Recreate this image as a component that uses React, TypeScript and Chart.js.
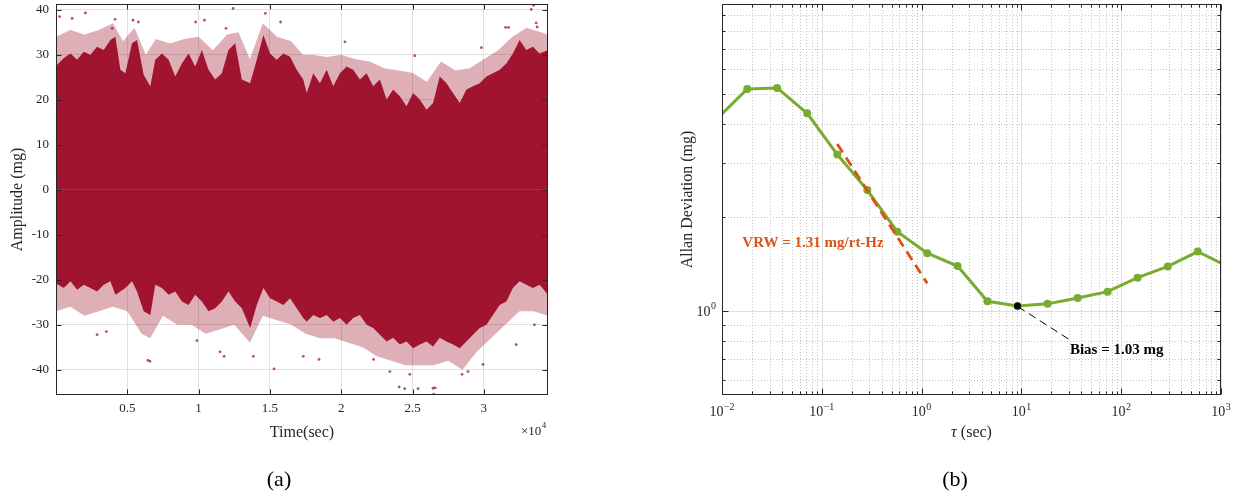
import React, { useEffect, useRef } from 'react';
import { Chart, registerables } from 'chart.js';
Chart.register(...registerables);

const SERIF = '"Liberation Serif", "DejaVu Serif", "Times New Roman", serif';
const INK = '#262626';
const WINE = 'rgb(160,20,48)';
const WINE_FRINGE = 'rgba(160,20,48,0.34)';
const WINE_DOT = 'rgba(160,20,48,0.75)';
const GREEN = '#77AC30';
const ORANGE = '#D95319';

// ---------------- Panel (a): raw accelerometer amplitude (envelope of the dense point cloud) ----------------
const coreTopTime = [0, 546, 1015, 1482, 1948, 2414, 2880, 3347, 3814, 4164, 4514, 4864, 5330, 5680, 6147, 6613, 6963, 7430, 7896, 8362, 8829, 9296, 9762, 10229, 10696, 11162, 11629, 12096, 12561, 13029, 13611, 14079, 14545, 15010, 15480, 15941, 16410, 16879, 17340, 17580, 18040, 18510, 18980, 19440, 19910, 20380, 20840, 21310, 21780, 22240, 22710, 23180, 23640, 24110, 24580, 25040, 25510, 25980, 26440, 26910, 27380, 27840, 28310, 28780, 29240, 29710, 30180, 30640, 31110, 31580, 32040, 32510, 32980, 33440, 33910, 34500];
const coreTopAmp = [27.5, 29.3, 30.3, 28.9, 30.7, 30.0, 31.8, 31.1, 33.3, 34.0, 26.7, 25.9, 32.6, 33.3, 25.6, 23.0, 28.9, 30.3, 28.9, 25.2, 28.1, 30.3, 27.4, 31.1, 26.7, 24.5, 25.9, 31.1, 32.6, 24.5, 23.7, 28.9, 34.4, 30.3, 28.9, 30.3, 29.6, 26.7, 24.5, 21.5, 25.9, 23.7, 26.7, 23.0, 25.9, 27.4, 26.7, 24.5, 25.9, 23.0, 24.5, 20.1, 22.3, 20.8, 18.6, 21.5, 20.1, 17.8, 19.3, 25.2, 23.7, 21.5, 19.3, 22.3, 23.0, 23.7, 25.2, 25.9, 26.7, 28.1, 30.3, 33.3, 31.1, 31.8, 30.3, 31.1];

const coreBottomTime = coreTopTime;
const coreBottomAmp = [-20.8, -21.8, -20.3, -22.2, -21.1, -21.8, -22.6, -21.1, -20.3, -23.3, -22.6, -21.8, -20.3, -22.6, -27.0, -27.8, -21.1, -21.8, -23.3, -22.6, -24.8, -25.6, -23.3, -24.8, -27.0, -26.3, -24.8, -22.6, -24.8, -26.3, -30.7, -25.6, -21.8, -24.1, -24.8, -25.6, -24.1, -26.3, -28.5, -29.3, -27.8, -28.5, -27.8, -29.3, -28.5, -30.0, -28.5, -27.8, -30.0, -30.7, -32.2, -33.7, -32.9, -34.4, -33.7, -35.2, -34.4, -33.7, -34.8, -32.9, -33.7, -34.4, -35.2, -33.7, -32.2, -30.7, -30.0, -27.8, -25.6, -24.8, -21.8, -20.3, -21.1, -21.8, -21.1, -23.3];

const fringeTopTime = [0, 1000, 2000, 3000, 4000, 4700, 5500, 6300, 7000, 8000, 9000, 10000, 11000, 12000, 12800, 13600, 14500, 15500, 16500, 17300, 18000, 19000, 20000, 21000, 22000, 23000, 24000, 25000, 26000, 27000, 28000, 29000, 30000, 31000, 32000, 33000, 34000, 34500];
const fringeTopAmp = [34.0, 35.5, 34.5, 35.5, 37.0, 33.0, 36.0, 30.0, 33.5, 32.5, 33.5, 34.0, 31.0, 34.5, 35.0, 29.0, 37.0, 34.0, 33.0, 30.0, 30.0, 29.5, 30.0, 29.0, 28.5, 27.0, 26.5, 26.0, 24.0, 28.5, 26.5, 27.0, 29.0, 31.0, 34.0, 36.0, 35.0, 34.5];

const fringeBottomTime = [0, 1000, 2000, 3000, 4000, 5000, 6000, 6600, 7500, 8500, 9500, 10500, 11500, 12500, 13600, 14500, 15500, 16500, 17500, 18500, 19500, 20500, 21500, 22500, 23500, 24500, 25500, 26500, 27500, 28500, 29500, 30500, 31500, 32500, 33500, 34500];
const fringeBottomAmp = [-27, -26, -28, -27, -26, -27, -32, -33, -28, -30, -30, -32, -31, -30, -34, -28, -29, -30, -32, -33, -33, -34, -35, -37, -38, -39, -39, -39, -38, -40, -36, -33, -30, -27, -27, -28];

const strayTime = [250, 1130, 2060, 3940, 4140, 5400, 5770, 9790, 10410, 11920, 12420, 14680, 15750, 20260, 25160, 29830, 31530, 31740, 33320, 33490, 33670, 33740,
  2880, 3530, 6450, 6580, 9880, 11500, 11790, 13840, 15290, 17340, 18440, 22270, 23410, 24060, 24450, 24810, 25390, 26440, 26490, 26590, 28470, 28890, 29940, 32270, 33550];
const strayAmp = [38.5, 38.1, 39.3, 35.9, 37.9, 37.7, 37.3, 37.3, 37.7, 35.9, 40.3, 39.2, 37.3, 32.9, 29.8, 31.6, 36.1, 36.1, 40.1, 41.0, 37.1, 36.2,
  -32.2, -31.5, -37.9, -38.1, -33.5, -36.0, -37.0, -37.0, -39.8, -37.0, -37.7, -37.7, -40.4, -43.8, -44.2, -41.0, -44.2, -44.1, -45.4, -44.0, -41.0, -40.4, -38.8, -34.4, -30.0];

const timeTicks = [5000, 10000, 15000, 20000, 25000, 30000];
const timeTickLabels = ['0.5', '1', '1.5', '2', '2.5', '3'];
const ampTicks = [-40, -30, -20, -10, 0, 10, 20, 30, 40];

// ---------------- Panel (b): Allan deviation ----------------
const allanTau = [0.00893, 0.0179, 0.0357, 0.0714, 0.143, 0.286, 0.571, 1.14, 2.29, 4.57, 9.14, 18.3, 36.6, 73.1, 146, 293, 585, 1170];
const allanDev = [4.16, 5.19, 5.23, 4.33, 3.19, 2.45, 1.80, 1.534, 1.394, 1.073, 1.037, 1.053, 1.10, 1.153, 1.279, 1.39, 1.552, 1.39];
const vrwTau = [0.1429, 1.14];
const vrwDev = [3.45, 1.226];
const biasTau = [9.14];
const biasDev = [1.037];
const biasLeaderTau = [9.22, 30.4];
const biasLeaderDev = [1.032, 0.807];
const vrwLabel = { tau: 0.016, dev: 1.65, text: 'VRW = 1.31 mg/rt-Hz' };
const biasLabel = { tau: 30.6, dev: 0.746, text: 'Bias = 1.03 mg' };
const tauTicks = [0.01, 0.1, 1, 10, 100, 1000];
const tauTickExp = ['\u22122', '\u22121', '0', '1', '2', '3'];
const devMajorTicks = [1];
const devMajorExp = ['0'];

const pts = (xs: number[], ys: number[]) => xs.map((x, i) => ({ x, y: ys[i] }));

function seg(ctx: CanvasRenderingContext2D, x1: number, y1: number, x2: number, y2: number) {
  ctx.beginPath();
  ctx.moveTo(x1, y1);
  ctx.lineTo(x2, y2);
  ctx.stroke();
}

function drawPow(ctx: CanvasRenderingContext2D, base: string, exp: string, x: number, cy: number, align: 'center' | 'right') {
  ctx.font = `14px ${SERIF}`;
  const wb = ctx.measureText(base).width;
  ctx.font = `10px ${SERIF}`;
  const we = ctx.measureText(exp).width;
  const total = wb + we + 0.5;
  const x0 = align === 'center' ? x - total / 2 : x - total;
  ctx.textAlign = 'left';
  ctx.textBaseline = 'alphabetic';
  ctx.font = `14px ${SERIF}`;
  ctx.fillText(base, x0, cy + 5);
  ctx.font = `10px ${SERIF}`;
  ctx.fillText(exp, x0 + wb + 0.5, cy - 1.5);
}

const noPad = (s: any) => {
  s.paddingTop = 0;
  s.paddingBottom = 0;
  s.paddingLeft = 0;
  s.paddingRight = 0;
};

const panelAPlugin = {
  id: 'panelA',
  afterDatasetsDraw(chart: any) {
    const { ctx, chartArea: a } = chart;
    const xs = chart.scales.x;
    const ys = chart.scales.y;
    ctx.save();
    ctx.strokeStyle = INK;
    ctx.lineWidth = 1;
    const L = Math.round(a.left) + 0.5, R = Math.round(a.right) - 0.5, T = Math.round(a.top) + 0.5, B = Math.round(a.bottom) - 0.5;
    ctx.strokeRect(L, T, R - L, B - T);
    timeTicks.forEach((v) => {
      const p = Math.round(xs.getPixelForValue(v)) + 0.5;
      seg(ctx, p, B, p, B - 5);
      seg(ctx, p, T, p, T + 5);
    });
    ampTicks.forEach((v) => {
      const p = Math.round(ys.getPixelForValue(v)) + 0.5;
      seg(ctx, L, p, L + 5, p);
      seg(ctx, R, p, R - 5, p);
    });
    ctx.fillStyle = INK;
    ctx.font = `13px ${SERIF}`;
    ctx.textAlign = 'left';
    ctx.textBaseline = 'alphabetic';
    const w = ctx.measureText('\u00d710').width;
    const x0 = a.right - 27;
    ctx.fillText('\u00d710', x0, 435);
    ctx.font = `9px ${SERIF}`;
    ctx.fillText('4', x0 + w + 0.5, 428);
    ctx.restore();
  },
};

const panelBPlugin = {
  id: 'panelB',
  beforeDatasetsDraw(chart: any) {
    const { ctx, chartArea: a } = chart;
    const xs = chart.scales.x;
    const ys = chart.scales.y;
    ctx.save();
    ctx.lineWidth = 1;
    ctx.strokeStyle = '#c4c4c4';
    ctx.setLineDash([1, 2]);
    for (let k = -2; k <= 2; k++) {
      for (let m = 2; m <= 9; m++) {
        const p = Math.round(xs.getPixelForValue(m * Math.pow(10, k))) + 0.5;
        seg(ctx, p, a.top, p, a.bottom);
      }
    }
    [0.6, 0.7, 0.8, 0.9, 2, 3, 4, 5, 6, 7, 8, 9].forEach((v) => {
      const p = Math.round(ys.getPixelForValue(v)) + 0.5;
      seg(ctx, a.left, p, a.right, p);
    });
    ctx.setLineDash([]);
    ctx.strokeStyle = '#dedede';
    tauTicks.forEach((v) => {
      const p = Math.round(xs.getPixelForValue(v)) + 0.5;
      seg(ctx, p, a.top, p, a.bottom);
    });
    devMajorTicks.forEach((v) => {
      const p = Math.round(ys.getPixelForValue(v)) + 0.5;
      seg(ctx, a.left, p, a.right, p);
    });
    ctx.restore();
  },
  afterDatasetsDraw(chart: any) {
    const { ctx, chartArea: a } = chart;
    const xs = chart.scales.x;
    const ys = chart.scales.y;
    ctx.save();
    ctx.strokeStyle = INK;
    ctx.lineWidth = 1;
    const L = Math.round(a.left) + 0.5, R = Math.round(a.right) - 0.5, T = Math.round(a.top) + 0.5, B = Math.round(a.bottom) - 0.5;
    ctx.strokeRect(L, T, R - L, B - T);
    for (let k = -2; k <= 3; k++) {
      for (let m = 1; m <= 9; m++) {
        const v = m * Math.pow(10, k);
        if (v > 1000.001) break;
        const p = Math.round(xs.getPixelForValue(v)) + 0.5;
        const len = m === 1 ? 6 : 3;
        seg(ctx, p, B, p, B - len);
        seg(ctx, p, T, p, T + len);
      }
    }
    [0.6, 0.7, 0.8, 0.9, 1, 2, 3, 4, 5, 6, 7, 8, 9].forEach((v) => {
      const p = Math.round(ys.getPixelForValue(v)) + 0.5;
      const len = v === 1 ? 6 : 3;
      seg(ctx, L, p, L + len, p);
      seg(ctx, R, p, R - len, p);
    });
    ctx.fillStyle = INK;
    tauTicks.forEach((v, i) => {
      drawPow(ctx, '10', tauTickExp[i], xs.getPixelForValue(v), 411, 'center');
    });
    devMajorTicks.forEach((v, i) => {
      drawPow(ctx, '10', devMajorExp[i], a.left - 6, ys.getPixelForValue(v), 'right');
    });
    ctx.textBaseline = 'middle';
    ctx.textAlign = 'left';
    ctx.font = `italic 16px ${SERIF}`;
    const wt = ctx.measureText('\u03c4').width;
    ctx.font = `16px ${SERIF}`;
    const ws = ctx.measureText(' (sec)').width;
    const cx = (a.left + a.right) / 2;
    const tx = cx - (wt + ws) / 2;
    ctx.font = `italic 16px ${SERIF}`;
    ctx.fillText('\u03c4', tx, 433);
    ctx.font = `16px ${SERIF}`;
    ctx.fillText(' (sec)', tx + wt, 433);
    ctx.font = `bold 15px ${SERIF}`;
    ctx.fillStyle = ORANGE;
    ctx.fillText(vrwLabel.text, xs.getPixelForValue(vrwLabel.tau), ys.getPixelForValue(vrwLabel.dev));
    ctx.fillStyle = '#000';
    ctx.fillText(biasLabel.text, xs.getPixelForValue(biasLabel.tau), ys.getPixelForValue(biasLabel.dev));
    ctx.restore();
  },
};

function PanelA() {
  const ref = useRef<HTMLCanvasElement>(null);
  useEffect(() => {
    const envelope = (data: any[], color: string) => ({
      data,
      borderColor: 'rgba(0,0,0,0)',
      borderWidth: 0,
      backgroundColor: color,
      pointRadius: 0,
      fill: { value: 0 },
      tension: 0,
      clip: 0,
    });
    const chart = new Chart(ref.current as HTMLCanvasElement, {
      type: 'line',
      data: {
        datasets: [
          {
            data: pts(strayTime, strayAmp),
            showLine: false,
            pointRadius: 1.4,
            pointBorderWidth: 0,
            pointBackgroundColor: WINE_DOT,
            borderColor: WINE_DOT,
            clip: 0,
          } as any,
          envelope(pts(coreTopTime, coreTopAmp), WINE),
          envelope(pts(coreBottomTime, coreBottomAmp), WINE),
          envelope(pts(fringeTopTime, fringeTopAmp), WINE_FRINGE),
          envelope(pts(fringeBottomTime, fringeBottomAmp), WINE_FRINGE),
        ],
      },
      options: {
        responsive: false,
        animation: false,
        events: [],
        layout: { padding: { left: 0, right: 22, top: 2, bottom: 39 } },
        plugins: { legend: { display: false }, tooltip: { enabled: false } },
        scales: {
          x: {
            type: 'linear',
            min: 0,
            max: 34500,
            afterBuildTicks: (s: any) => { s.ticks = timeTicks.map((v) => ({ value: v })); },
            afterFit: (s: any) => { s.height = 60; noPad(s); },
            grid: { display: true, drawTicks: false, color: '#e0e0e0', lineWidth: 1 },
            border: { display: false },
            ticks: {
              padding: 6,
              color: INK,
              font: { family: SERIF, size: 13 },
              maxRotation: 0,
              autoSkip: false,
              callback: (_v: any, i: number) => timeTickLabels[i],
            },
            title: { display: true, text: 'Time(sec)', color: INK, font: { family: SERIF, size: 16 }, padding: { top: 0, bottom: 13 } },
          },
          y: {
            type: 'linear',
            min: -45.6,
            max: 41.3,
            afterBuildTicks: (s: any) => { s.ticks = ampTicks.map((v) => ({ value: v })); },
            afterFit: (s: any) => { s.width = 56; noPad(s); },
            grid: { display: true, drawTicks: false, color: '#e0e0e0', lineWidth: 1 },
            border: { display: false },
            ticks: { padding: 7, color: INK, font: { family: SERIF, size: 13 }, autoSkip: false, callback: (v: any) => String(v) },
            title: { display: true, text: 'Amplitude (mg)', color: INK, font: { family: SERIF, size: 16 }, padding: { top: 8, bottom: 0 } },
          },
        },
      } as any,
      plugins: [panelAPlugin],
    });
    return () => chart.destroy();
  }, []);
  return <canvas ref={ref} width={570} height={494} style={{ position: 'absolute', left: 0, top: 0, width: 570, height: 494 }} />;
}

function PanelB() {
  const ref = useRef<HTMLCanvasElement>(null);
  useEffect(() => {
    const chart = new Chart(ref.current as HTMLCanvasElement, {
      type: 'line',
      data: {
        datasets: [
          {
            data: pts(biasTau, biasDev),
            showLine: false,
            pointRadius: 3.5,
            pointBorderWidth: 0,
            pointBackgroundColor: '#000',
            borderColor: '#000',
            clip: 0,
          } as any,
          {
            data: pts(biasLeaderTau, biasLeaderDev),
            borderColor: '#000',
            borderWidth: 1,
            borderDash: [8, 5],
            pointRadius: 0,
            fill: false,
            clip: 0,
          },
          {
            data: pts(vrwTau, vrwDev),
            borderColor: ORANGE,
            borderWidth: 2.8,
            borderDash: [10, 6],
            pointRadius: 0,
            fill: false,
            clip: 0,
          },
          {
            data: pts(allanTau, allanDev),
            borderColor: GREEN,
            borderWidth: 3,
            pointRadius: 4,
            pointBorderWidth: 0,
            pointBackgroundColor: GREEN,
            fill: false,
            tension: 0,
            clip: 0,
          },
        ],
      },
      options: {
        responsive: false,
        animation: false,
        events: [],
        layout: { padding: { left: 0, right: 20, top: 2, bottom: 39 } },
        plugins: { legend: { display: false }, tooltip: { enabled: false } },
        scales: {
          x: {
            type: 'logarithmic',
            min: 0.01,
            max: 1000,
            afterFit: (s: any) => { s.height = 60; noPad(s); },
            grid: { display: false, drawTicks: false },
            border: { display: false },
            ticks: { display: false },
          },
          y: {
            type: 'logarithmic',
            min: 0.5354,
            max: 9.75,
            afterFit: (s: any) => { s.width = 142; noPad(s); },
            grid: { display: false, drawTicks: false },
            border: { display: false },
            ticks: { display: false },
            title: { display: true, text: 'Allan Deviation (mg)', color: INK, font: { family: SERIF, size: 16 }, padding: { top: 98, bottom: 0 } },
          },
        },
      } as any,
      plugins: [panelBPlugin],
    });
    return () => chart.destroy();
  }, []);
  return <canvas ref={ref} width={661} height={494} style={{ position: 'absolute', left: 580, top: 0, width: 661, height: 494 }} />;
}

export default function App() {
  const cap: React.CSSProperties = {
    position: 'absolute',
    top: 479,
    transform: 'translate(-50%, -50%)',
    font: `22px ${SERIF}`,
    color: '#000',
    whiteSpace: 'nowrap',
  };
  return (
    <div style={{ position: 'fixed', left: 0, top: 0, width: 1241, height: 494, background: '#fff', overflow: 'hidden' }}>
      <PanelA />
      <PanelB />
      <div style={{ ...cap, left: 279 }}>(a)</div>
      <div style={{ ...cap, left: 955 }}>(b)</div>
    </div>
  );
}
